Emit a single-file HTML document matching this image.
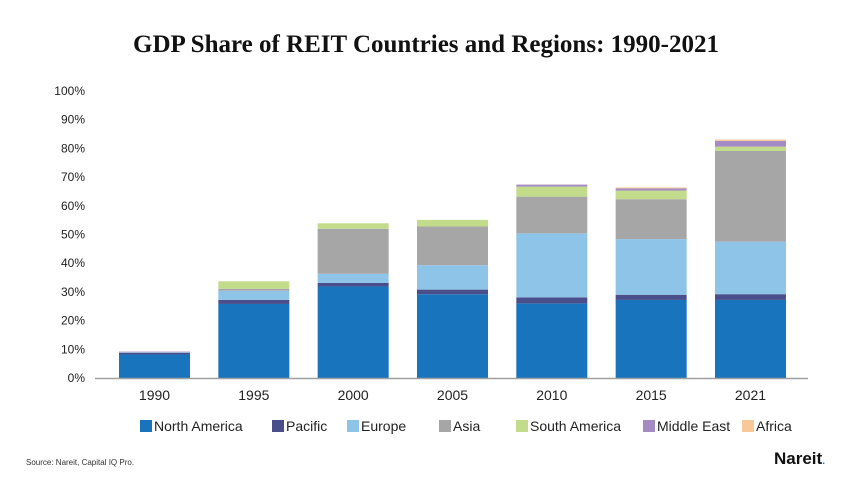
<!DOCTYPE html>
<html><head><meta charset="utf-8"><style>
body{margin:0;background:#fff;width:850px;height:478px;overflow:hidden;font-family:"Liberation Sans",Arial,sans-serif}
</style></head><body>
<svg id="chart" width="850" height="478" xmlns="http://www.w3.org/2000/svg">
<text x="426" y="52" text-anchor="middle" font-family="Liberation Serif,serif" font-weight="bold" font-size="25" fill="#111">GDP Share of REIT Countries and Regions: 1990-2021</text>
<g id="yaxis"></g>
<g id="bars"></g>
<g id="xaxis"></g>
<g id="legend"></g>
<text x="26" y="465" font-size="8" fill="#333">Source: Nareit, Capital IQ Pro.</text>
<text x="774" y="464" font-size="17" font-weight="bold" fill="#111">Nareit<tspan fill="#1874bc" font-size="10">.</tspan></text>
</svg>
<script>
const categories=["1990","1995","2000","2005","2010","2015","2021"];
const seriesNames=["North America","Pacific","Europe","Asia","South America","Middle East","Africa"];
const northAmerica=[8.2,25.8,31.9,29.2,26.0,27.2,27.2];
const pacific=[0.6,1.4,1.2,1.6,2.1,1.8,2.0];
const europe=[0.2,3.2,3.2,8.5,22.3,19.4,18.3];
const asia=[0,0.7,15.7,13.5,12.8,13.9,31.6];
const southAmerica=[0,2.6,1.9,2.3,3.5,3.0,1.5];
const middleEast=[0.2,0,0,0,0.7,0.8,2.0];
const africa=[0,0,0,0,0,0.3,0.5];
const yTicks=[0,10,20,30,40,50,60,70,80,90,100];
const colors=["#1874bc","#4a4e8a","#8ec4e8","#a6a6a6","#c2dc8c","#a58bc4","#f8c898"];
const series=[northAmerica,pacific,europe,asia,southAmerica,middleEast,africa];
const NS="http://www.w3.org/2000/svg";
const x0=95,x1=808,yBase=378,yTop=91,slot=99.33,bw=71;
const y=v=>yBase-(yBase-yTop)*v/100;
const xc=i=>154.5+slot*i;
function mk(tag,attrs,parent){const e=document.createElementNS(NS,tag);for(const k in attrs)e.setAttribute(k,attrs[k]);parent.appendChild(e);return e;}
const ya=document.getElementById('yaxis');
yTicks.forEach(t=>{const e=mk('text',{x:85,y:y(t)+4,'text-anchor':'end','font-size':12,fill:'#222'},ya);e.textContent=t+'%';

});
const bars=document.getElementById('bars');
categories.forEach((c,i)=>{let acc=0;series.forEach((s,j)=>{const v=s[i];if(v<=0)return;
const r=mk('rect',{x:xc(i)-bw/2,y:y(acc+v),width:bw,height:y(acc)-y(acc+v),fill:colors[j]},bars);


acc+=v;});});
const xa=document.getElementById('xaxis');
const ln=mk('line',{x1:x0,x2:x1,y1:yBase+0.5,y2:yBase+0.5,stroke:'#a0a0a0','stroke-width':1.5},xa);


categories.forEach((c,i)=>{const e=mk('text',{x:xc(i),y:400,'text-anchor':'middle','font-size':14,fill:'#222'},xa);e.textContent=c;

});
const lg=document.getElementById('legend');
const lx=[140,272,347,439,516,643,742];
seriesNames.forEach((n,j)=>{const g=mk('g',{},lg);


mk('rect',{x:lx[j],y:420,width:12,height:12,fill:colors[j]},g);
const t=mk('text',{x:lx[j]+14,y:431,'font-size':14,fill:'#222'},g);t.textContent=n;});
</script>
</body></html>
